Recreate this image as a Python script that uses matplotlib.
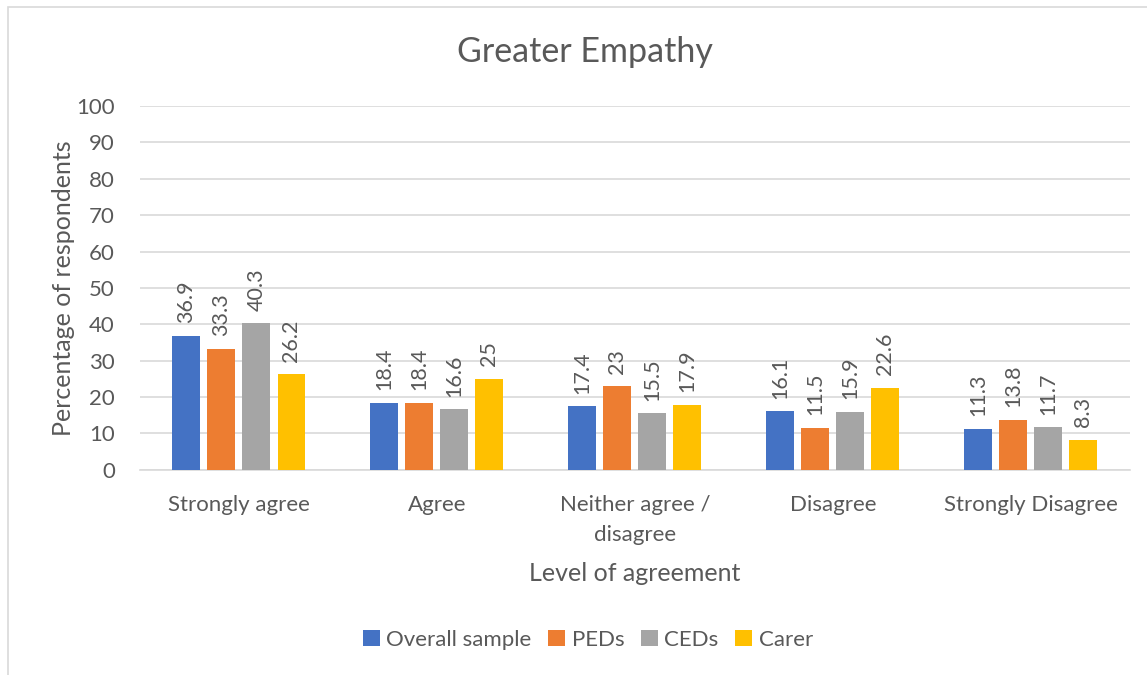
import numpy as np
import matplotlib
matplotlib.use('Agg')
import matplotlib.pyplot as plt
from matplotlib.patches import Rectangle

plt.rcParams['font.family'] = ['Lato', 'DejaVu Sans']

categories = ['Strongly agree', 'Agree', 'Neither agree /\ndisagree', 'Disagree', 'Strongly Disagree']
series = ['Overall sample', 'PEDs', 'CEDs', 'Carer']
overall = [36.9, 18.4, 17.4, 16.1, 11.3]
peds = [33.3, 18.4, 23, 11.5, 13.8]
ceds = [40.3, 16.6, 15.5, 15.9, 11.7]
carer = [26.2, 25, 17.9, 22.6, 8.3]
colors = ['#4472C4', '#ED7D31', '#A5A5A5', '#FFC000']
TXT = '#595959'

fig = plt.figure(figsize=(11.47, 6.75), dpi=100)
ax = fig.add_axes([0.122, 0.304, 0.863, 0.539])

# chart border (only top/left visible in reference)
fig.patches.append(Rectangle((8 / 1147, -0.1), 1.2, (675 - 7) / 675 + 0.1,
                             transform=fig.transFigure, fill=False,
                             edgecolor='#D9D9D9', lw=1.2))

x = np.arange(len(categories))
w, step = 0.141, 0.177
for i, (name, vals) in enumerate(zip(series, [overall, peds, ceds, carer])):
    xs = x + (i - 1.5) * step
    ax.bar(xs, vals, width=w, color=colors[i], label=name, zorder=3)
    for xx, v in zip(xs, vals):
        ax.annotate('%g' % v, (xx, v), xytext=(0, 9), textcoords='offset points',
                    rotation=90, ha='center', va='bottom', fontsize=15.5, color=TXT)

ax.set_xlim(-0.5, 4.5)
ax.set_ylim(0, 100)
ax.set_yticks(range(0, 101, 10))
ax.set_xticks(x)
ax.set_xticklabels(categories, fontsize=16, color=TXT, linespacing=1.65)
ax.tick_params(axis='y', labelsize=16, labelcolor=TXT, length=0, pad=18)
ax.tick_params(axis='x', length=0, pad=18)
ax.grid(axis='y', color='#D9D9D9', lw=1.2, zorder=0)
for s in ax.spines.values():
    s.set_visible(False)
ax.spines['bottom'].set_visible(True)
ax.spines['bottom'].set_color('#D9D9D9')
ax.spines['bottom'].set_linewidth(1.2)

fig.text(585 / 1147, 1 - 52 / 675, 'Greater Empathy', fontsize=24.5, color=TXT,
         ha='center', va='center')
ax.set_ylabel('Percentage of respondents', fontsize=18, color=TXT, labelpad=1)
ax.set_xlabel('Level of agreement', fontsize=18, color=TXT, labelpad=12)

ax.legend(loc='center', bbox_to_anchor=(588 / 1147, (675 - 640) / 675), bbox_transform=fig.transFigure,
          ncol=4, frameon=False, fontsize=16, handlelength=0.75, handleheight=0.75,
          handletextpad=0.3, columnspacing=0.75, labelcolor=TXT)

fig.savefig('out.png', dpi=100)
